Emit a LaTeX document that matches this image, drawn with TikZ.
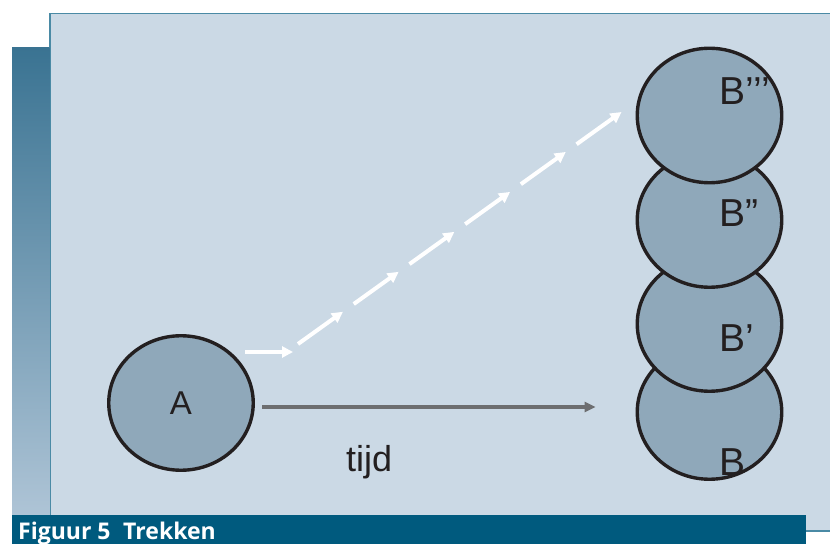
\documentclass[tikz,border=0pt]{standalone}
\usepackage{fontspec}
\setmainfont{Liberation Sans}
\newfontfamily\captionfont{Open Sans}
\usetikzlibrary{shapes.geometric,arrows.meta,calc}

\definecolor{panelfill}{HTML}{CBD9E5}
\definecolor{panelline}{HTML}{4A8AA5}
\definecolor{stripTop}{HTML}{3A7392}
\definecolor{stripBottom}{HTML}{AEC4D6}
\definecolor{barfill}{HTML}{005A7E}
\definecolor{blobfill}{HTML}{8FA8BA}
\definecolor{blobline}{HTML}{231F20}
\definecolor{timegray}{HTML}{6D6E70}

\tikzset{
  blob/.style={ellipse, draw=blobline, fill=blobfill, line width=3.4pt,
    minimum width=144.5pt, minimum height=134.5pt, inner sep=0pt},
  blabel/.style={inner sep=0pt, anchor=base west, text=blobline,
    font=\fontsize{39}{41}\selectfont},
  flow/.style={draw=white, line width=4pt,
    -{Triangle[length=11pt,width=11pt]}},
  timeflow/.style={draw=timegray, line width=3.2pt,
    -{Triangle[length=11pt,width=10pt]}}
}

\begin{document}
\begin{tikzpicture}[x=1pt,y=1pt]
\useasboundingbox (0,0) rectangle (830,544);

% background panel and frame
\fill[panelfill] (50,13) rectangle (832,530.5);
\draw[panelline, line width=1.5pt] (832,530.5) -- (50,530.5) -- (50,13) -- (832,13);

% graded strip on the left
\shade[top color=stripTop, bottom color=stripBottom] (12,29) rectangle (49.3,496);

% caption bar
\fill[barfill] (12,0) rectangle (806,29);
\node[anchor=base west, inner sep=0pt, text=white,
  font=\captionfont\bfseries\fontsize{23}{25}\selectfont]
  (caption) at (18,5) {Figuur 5\hspace{0.55em}Trekken};

% stacked positions of B, lowest first
\node[blob] (B0) at (709.5,132) {};
\node[blob] (B1) at (709.5,220) {};
\node[blob] (B2) at (709.5,324) {};
\node[blob] (B3) at (709.5,428.5) {};

\node[blabel] (lB0) at (719.5,69) {B};
\node[blabel] (lB1) at (719.5,192) {B’};
\node[blabel] (lB2) at (719.5,317) {B”};
\node[blabel] (lB3) at (719.5,439) {B’’’};

% starting position A
\node[blob, text=blobline, font=\fontsize{33}{35}\selectfont] (A) at (181,141) {A};

% time axis
\coordinate (t0) at ([xshift=7.5pt,yshift=-4pt]A.east);
\draw[timeflow, shorten >=40pt] (t0) -- (t0 -| B0.west);
\node[inner sep=0pt, anchor=base west, text=blobline,
  font=\fontsize{36}{38}\selectfont] (tijd) at (346,73) {tijd};

% dashed path of the pull from A towards B'''
\coordinate (w0) at ([shift={(64,51)}]A.center);
\coordinate (w1) at ([shift={(112,51)}]A.center);
\draw[flow] (w0) -- (w1);
\coordinate (d0) at ([shift={(117,59)}]A.center);
\coordinate (d1) at ([shift={(-14,3.5)}]B3.west);
\foreach \i in {0,...,5}{
  \draw[flow] ($(d0)!{\i*0.1722}!(d1)$) -- ($(d0)!{\i*0.1722+0.139}!(d1)$);
}
\end{tikzpicture}
\end{document}
